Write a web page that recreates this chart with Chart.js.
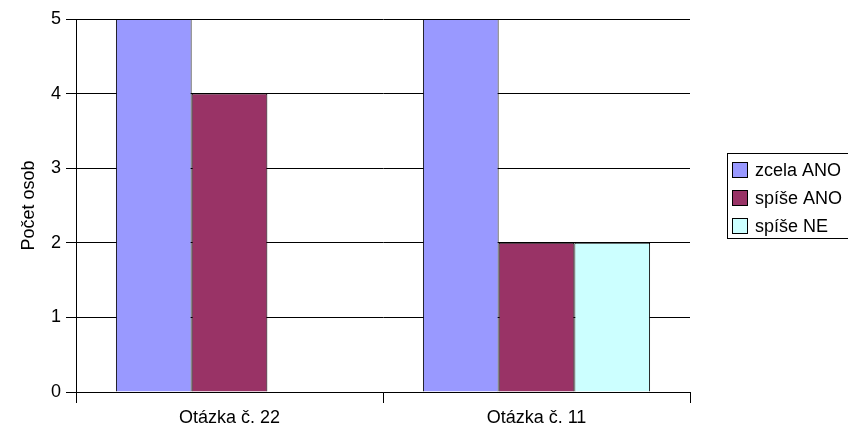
<!DOCTYPE html>
<html>
<head>
<meta charset="utf-8">
<script src="https://cdn.jsdelivr.net/npm/chart.js@4/dist/chart.umd.min.js"></script>
<style>
  html, body { margin: 0; padding: 0; background: #fff; }
  #wrap { width: 848px; height: 437px; }
</style>
</head>
<body>
<div id="wrap"><canvas id="survey"></canvas></div>
<script>
const categories = ['Otázka č. 22', 'Otázka č. 11'];
const seriesNames = ['zcela ANO', 'spíše ANO', 'spíše NE'];
const zcelaAno = [5, 5];
const spiseAno = [4, 2];
const spiseNe = [0, 2];
const yTicks = [0, 1, 2, 3, 4, 5];

const colors = ['#9999FF', '#993366', '#CCFFFF'];
const FONT = 'Liberation Sans, Arial, sans-serif';

// boxed legend on the right, Excel style
const boxLegend = {
  id: 'boxLegend',
  afterDraw(chart) {
    const ctx = chart.ctx;
    const x = 727, y = 153, w = 130, h = 85;
    ctx.save();
    ctx.strokeStyle = '#000';
    ctx.lineWidth = 1;
    ctx.strokeRect(x + 0.5, y + 0.5, w, h);
    ctx.font = '18px ' + FONT;
    ctx.textBaseline = 'middle';
    chart.data.datasets.forEach((ds, i) => {
      const cy = y + 17 + i * 28;
      ctx.fillStyle = ds.backgroundColor;
      ctx.fillRect(x + 5.5, cy - 7.5, 15, 15);
      ctx.strokeRect(x + 5.5, cy - 7.5, 15, 15);
      ctx.fillStyle = '#000';
      ctx.fillText(ds.label, x + 28, cy + 1);
    });
    ctx.restore();
  }
};

new Chart(document.getElementById('survey'), {
  type: 'bar',
  data: {
    labels: categories,
    datasets: [zcelaAno, spiseAno, spiseNe].map((vals, i) => ({
      label: seriesNames[i],
      data: vals,
      backgroundColor: colors[i],
      borderColor: '#000',
      borderWidth: 1,
      borderSkipped: 'bottom',
      barPercentage: 1,
      categoryPercentage: 0.74
    }))
  },
  options: {
    responsive: true,
    maintainAspectRatio: false,
    animation: false,
    layout: { padding: { top: 19, right: 158, left: 0, bottom: 0 } },
    plugins: { legend: { display: false }, tooltip: { enabled: false } },
    scales: {
      x: {
        grid: { offset: true, drawOnChartArea: false, color: '#000', tickLength: 11 },
        border: { color: '#000' },
        ticks: { color: '#000', font: { family: FONT, size: 18 }, padding: 4 },
        afterFit(s) { s.height = 45; }
      },
      y: {
        min: 0, max: 5,
        afterBuildTicks(s) { s.ticks = yTicks.map(v => ({ value: v })); },
        grid: { color: '#000', tickLength: 10 },
        border: { color: '#000' },
        ticks: { color: '#000', font: { family: FONT, size: 18 }, padding: 5 },
        title: { display: true, text: 'Počet osob', color: '#000', font: { family: FONT, size: 18 }, padding: { top: 18, bottom: 0 } },
        afterFit(s) { s.width = 76; }
      }
    }
  },
  plugins: [boxLegend]
});
</script>
</body>
</html>
